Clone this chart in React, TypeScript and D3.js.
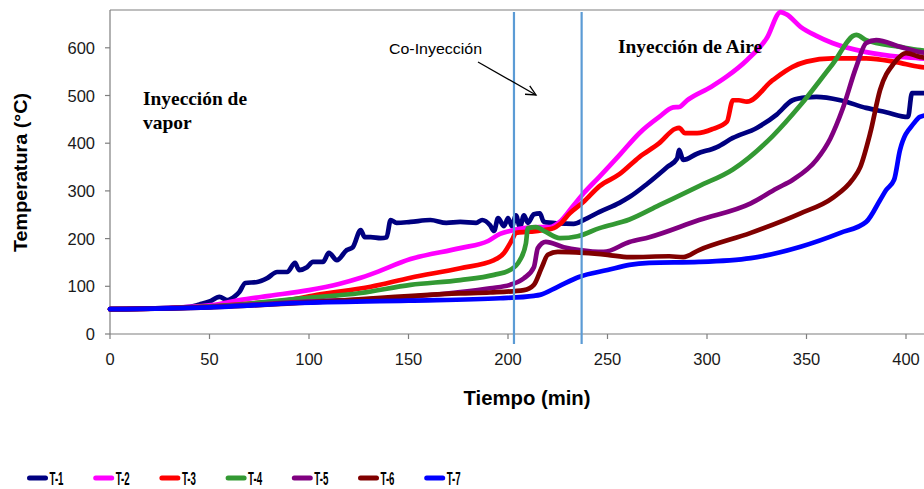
import React from "react";
import * as d3 from "d3";

const W = 924;
const H = 489;

const seriesNames = ["T-1", "T-2", "T-3", "T-4", "T-5", "T-6", "T-7"];
const seriesColors = ["#000080", "#FF00FF", "#FF0000", "#339933", "#800080", "#800000", "#0000FF"];

const t1: [number, number][] = [[0,52],[15,53],[30,55],[40,57],[45,62],[50,68],[55,78],[59,71],[63,80],[65,88],[68,107],[74,109],[79,117],[84,130],[89,130],[93,149],[95,134],[99,140],[102,151],[107,151],[110,170],[114,155],[119,176],[122,182],[126,218],[128,203],[131,203],[136,201],[139,203],[141,239],[144,233],[151,235],[161,239],[169,233],[176,235],[184,233],[187,239],[191,228],[193,216],[195,243],[198,226],[200,243],[202,226],[204,249],[206,224],[208,249],[210,233],[213,251],[216,253],[218,235],[225,232],[233,231],[238,239],[246,256],[256,275],[261,287],[270,315],[280,350],[285,368],[286,386],[288,365],[295,378],[305,392],[313,411],[325,432],[335,460],[343,490],[350,496],[355,497],[367,490],[380,474],[390,465],[401,455],[403,505],[410,505]];
const t2: [number, number][] = [[0,52],[20,53],[40,57],[55,63],[65,71],[80,80],[100,92],[115,105],[126,118],[131,125],[151,157],[176,180],[190,195],[196,210],[201,216],[208,222],[216,224],[221,224],[226,235],[233,270],[238,295],[246,330],[256,375],[266,421],[276,455],[283,475],[286,476],[290,490],[302,518],[310,540],[320,574],[330,620],[337,675],[340,670],[347,644],[355,625],[363,610],[380,591],[397,581],[407,578],[412,576]];
const t3: [number, number][] = [[0,52],[30,54],[50,58],[70,64],[90,71],[104,82],[131,99],[151,118],[176,138],[193,155],[198,170],[202,197],[204,212],[209,214],[213,215],[218,218],[223,222],[226,230],[231,253],[238,277],[246,310],[256,335],[266,371],[276,400],[284,430],[286,432],[289,421],[295,421],[303,430],[310,445],[313,490],[316,490],[320,487],[333,532],[343,560],[350,571],[363,578],[380,578],[395,570],[407,560],[412,558]];
const t4: [number, number][] = [[0,52],[30,54],[60,60],[95,74],[126,86],[151,103],[176,113],[193,124],[201,134],[206,155],[209,190],[210,222],[214,224],[219,214],[226,201],[235,205],[246,222],[261,240],[276,270],[296,310],[313,345],[333,415],[347,480],[363,565],[375,627],[380,616],[397,602],[407,595],[412,593]];
const t5: [number, number][] = [[0,52],[50,57],[95,67],[151,78],[176,88],[191,96],[201,103],[208,117],[213,140],[215,180],[219,193],[228,182],[236,176],[248,172],[261,193],[271,203],[296,239],[322,274],[335,305],[343,323],[355,365],[362,410],[368,470],[375,560],[380,610],[385,616],[397,602],[407,591],[412,588]];
const t6: [number, number][] = [[0,52],[50,56],[95,65],[176,85],[191,87],[208,92],[213,103],[217,140],[220,166],[225,172],[238,170],[250,166],[261,161],[281,163],[288,161],[296,176],[322,212],[347,253],[363,285],[373,323],[377,350],[382,421],[387,512],[394,568],[400,589],[407,581],[412,578]];
const t7: [number, number][] = [[0,52],[50,56],[95,65],[150,70],[196,75],[213,80],[216,82],[225,99],[236,120],[250,134],[261,145],[271,149],[296,151],[322,159],[347,183],[367,212],[380,235],[387,281],[390,302],[394,323],[397,386],[404,442],[407,455],[412,460]];

const seriesData = [t1, t2, t3, t4, t5, t6, t7];

const xTicks = [0, 50, 100, 150, 200, 250, 300, 350, 400];
const yTicks = [0, 100, 200, 300, 400, 500, 600];
const phaseLines = [203, 237];

export default function App() {
  const x = d3.scaleLinear().domain([0, 410]).range([110, 110 + 410 * 1.99]);
  const y = d3.scaleLinear().domain([0, 680]).range([334, 334 - 680 * 0.477]);
  const line = d3
    .line<[number, number]>()
    .x((d) => x(d[0]))
    .y((d) => y(d[1]))
    .curve(d3.curveMonotoneX);

  const axisColor = "#7f7f7f";
  const sans = "Liberation Sans, Arial, sans-serif";
  const serif = "Liberation Serif, Times New Roman, serif";

  // arrow
  const ax1 = 478, ay1 = 62, ax2 = 536, ay2 = 95;
  const ang = Math.atan2(ay2 - ay1, ax2 - ax1);
  const ah = 11;
  const a1 = [ax2 - ah * Math.cos(ang - 0.45), ay2 - ah * Math.sin(ang - 0.45)];
  const a2 = [ax2 - ah * Math.cos(ang + 0.45), ay2 - ah * Math.sin(ang + 0.45)];

  return (
    <svg
      width={W}
      height={H}
      style={{ position: "absolute", left: 0, top: 0, background: "#fff" }}
    >
      <rect x={0} y={0} width={W} height={H} fill="#fff" />
      {/* frame */}
      <line x1={110} y1={10} x2={W} y2={10} stroke={axisColor} strokeWidth={1.2} />
      <line x1={110} y1={10} x2={110} y2={334} stroke={axisColor} strokeWidth={1.2} />
      <line x1={110} y1={334} x2={W} y2={334} stroke={axisColor} strokeWidth={1.2} />
      {yTicks.map((v) => (
        <g key={"y" + v}>
          <line x1={105} x2={110} y1={y(v)} y2={y(v)} stroke={axisColor} strokeWidth={1.2} />
          <text
            x={95}
            y={y(v) + 6}
            textAnchor="end"
            fontFamily={sans}
            fontSize={16.5}
            fill="#1a1a1a"
          >
            {v}
          </text>
        </g>
      ))}
      {xTicks.map((v) => (
        <g key={"x" + v}>
          <line x1={x(v)} x2={x(v)} y1={334} y2={339} stroke={axisColor} strokeWidth={1.2} />
          <text
            x={x(v)}
            y={365}
            textAnchor="middle"
            fontFamily={sans}
            fontSize={16.5}
            fill="#1a1a1a"
          >
            {v}
          </text>
        </g>
      ))}
      {/* series */}
      {seriesData.map((d, i) => (
        <path
          key={seriesNames[i]}
          d={line(d) || ""}
          fill="none"
          stroke={seriesColors[i]}
          strokeWidth={4.7}
          strokeLinejoin="round"
          strokeLinecap="round"
        />
      ))}
      {/* phase lines */}
      {phaseLines.map((t) => (
        <line
          key={"p" + t}
          x1={x(t)}
          x2={x(t)}
          y1={12}
          y2={344}
          stroke="#5B9BD5"
          strokeWidth={2.2}
        />
      ))}
      {/* annotations */}
      <text x={143} y={105} fontFamily={serif} fontWeight="bold" fontSize={19.5} textLength={104} lengthAdjust="spacingAndGlyphs">
        Inyección de
      </text>
      <text x={143} y={129} fontFamily={serif} fontWeight="bold" fontSize={19.5}>
        vapor
      </text>
      <text x={618} y={53} fontFamily={serif} fontWeight="bold" fontSize={19.5} textLength={144} lengthAdjust="spacingAndGlyphs">
        Inyección de Aire
      </text>
      <text x={389} y={54} fontFamily={sans} fontSize={15} textLength={93} lengthAdjust="spacingAndGlyphs">
        Co-Inyección
      </text>
      <line x1={ax1} y1={ay1} x2={ax2} y2={ay2} stroke="#000" strokeWidth={1.3} />
      <polyline
        points={`${a1[0]},${a1[1]} ${ax2},${ay2} ${a2[0]},${a2[1]}`}
        fill="none"
        stroke="#000"
        strokeWidth={1.3}
      />
      {/* axis titles */}
      <text
        transform="translate(27,172.5) rotate(-90)"
        textAnchor="middle"
        fontFamily={sans}
        fontWeight="bold"
        fontSize={18}
        fill="#000"
        textLength={159}
        lengthAdjust="spacingAndGlyphs"
      >
        Temperatura (°C)
      </text>
      <text
        x={527}
        y={405}
        textAnchor="middle"
        fontFamily={sans}
        fontWeight="bold"
        fontSize={21}
        fill="#000"
        textLength={127}
        lengthAdjust="spacingAndGlyphs"
      >
        Tiempo (min)
      </text>
      {/* legend */}
      {seriesNames.map((n, i) => {
        const lx = 27 + i * 66.2;
        return (
          <g key={"l" + n}>
            <line
              x1={lx + 2.5}
              x2={lx + 18.5}
              y1={478}
              y2={478}
              stroke={seriesColors[i]}
              strokeWidth={5}
              strokeLinecap="round"
            />
            <text
              x={lx + 22.5}
              y={485}
              fontFamily={sans}
              fontWeight="bold"
              fontSize={18}
              textLength={14}
              lengthAdjust="spacingAndGlyphs"
            >
              {n}
            </text>
          </g>
        );
      })}
    </svg>
  );
}
